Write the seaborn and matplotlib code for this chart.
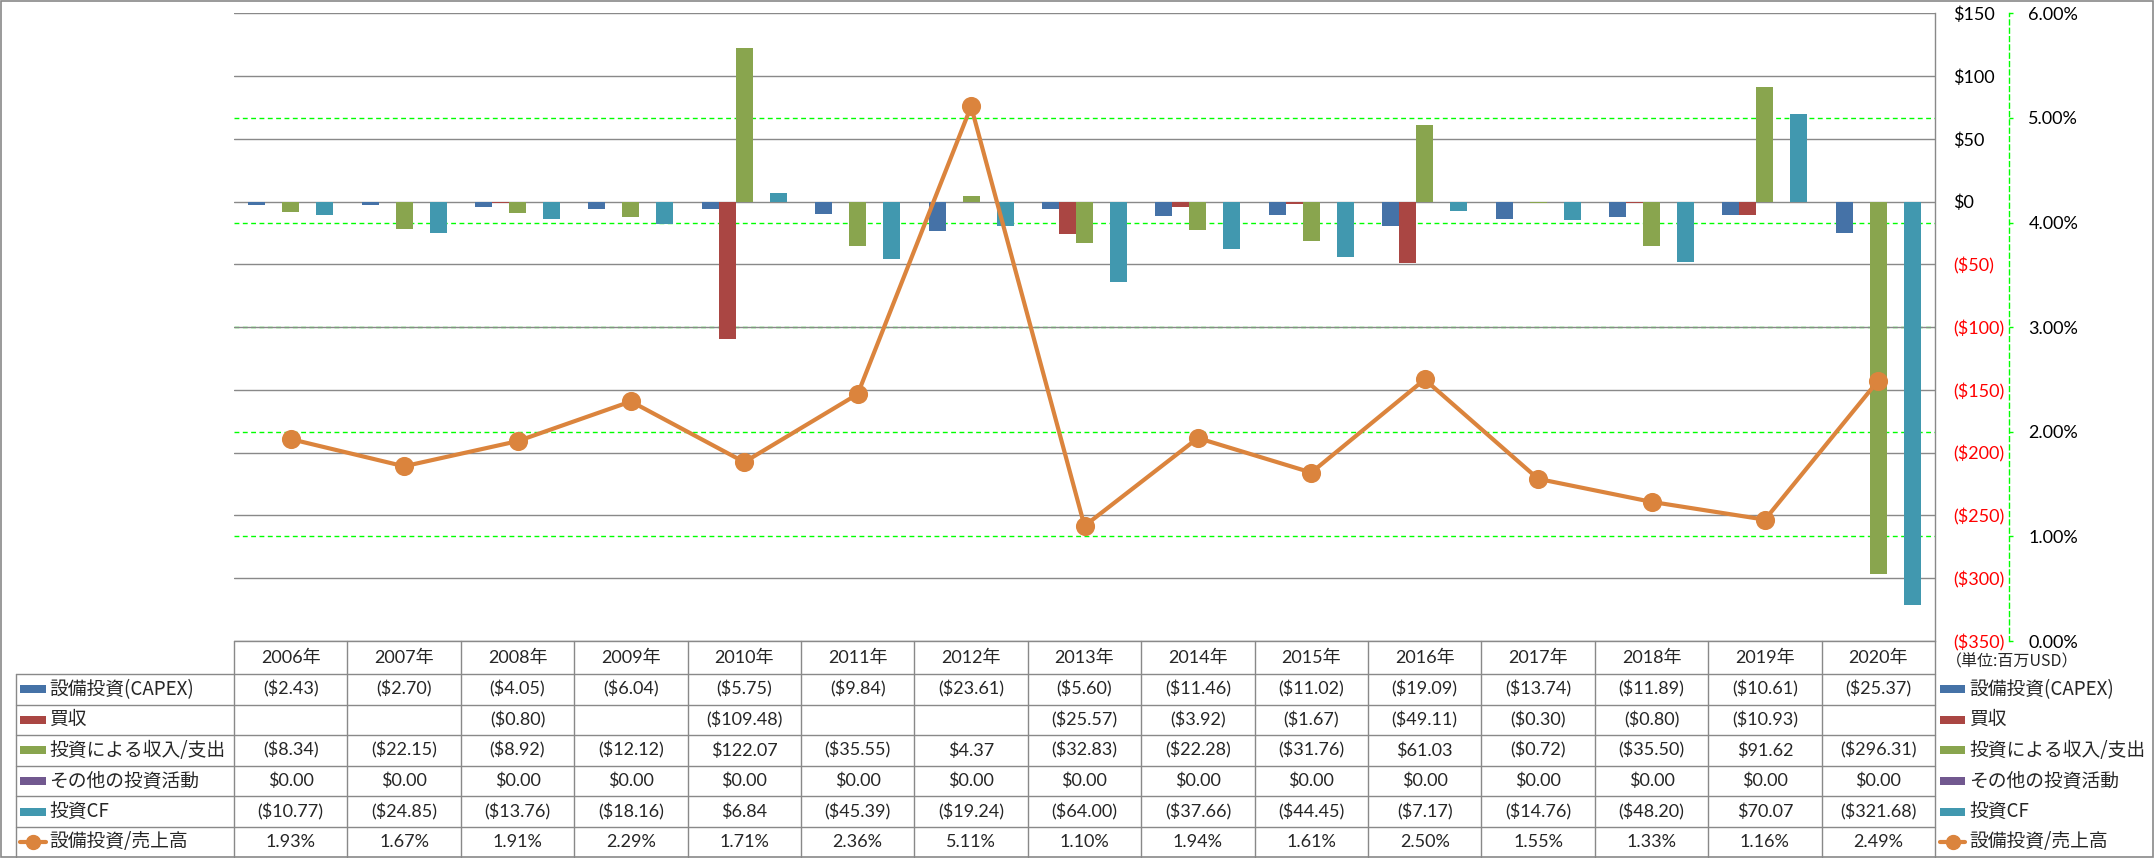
import numpy as np
import pandas as pd
import matplotlib.pyplot as plt
import seaborn as sns
from matplotlib.patches import Rectangle
from matplotlib.lines import Line2D

# data (単位: 百万USD)
years = ['2006年', '2007年', '2008年', '2009年', '2010年', '2011年', '2012年', '2013年',
         '2014年', '2015年', '2016年', '2017年', '2018年', '2019年', '2020年']
capex = [-2.43, -2.70, -4.05, -6.04, -5.75, -9.84, -23.61, -5.60, -11.46, -11.02,
         -19.09, -13.74, -11.89, -10.61, -25.37]
acquisition = [np.nan, np.nan, -0.80, np.nan, -109.48, np.nan, np.nan, -25.57, -3.92,
               -1.67, -49.11, -0.30, -0.80, -10.93, np.nan]
invest_income = [-8.34, -22.15, -8.92, -12.12, 122.07, -35.55, 4.37, -32.83, -22.28,
                 -31.76, 61.03, -0.72, -35.50, 91.62, -296.31]
other_invest = [0.00, 0.00, 0.00, 0.00, 0.00, 0.00, 0.00, 0.00, 0.00, 0.00,
                0.00, 0.00, 0.00, 0.00, 0.00]
invest_cf = [-10.77, -24.85, -13.76, -18.16, 6.84, -45.39, -19.24, -64.00, -37.66,
             -44.45, -7.17, -14.76, -48.20, 70.07, -321.68]
capex_ratio = [1.93, 1.67, 1.91, 2.29, 1.71, 2.36, 5.11, 1.10, 1.94, 1.61,
               2.50, 1.55, 1.33, 1.16, 2.49]

bar_names = ['設備投資(CAPEX)', '買収', '投資による収入/支出', 'その他の投資活動', '投資CF']
line_name = '設備投資/売上高'
bar_colors = ['#4572A7', '#AA4643', '#89A54E', '#71588F', '#4198AF']
line_color = '#DB843D'
bar_series = [capex, acquisition, invest_income, other_invest, invest_cf]

df = pd.DataFrame({
    '年': years * len(bar_names),
    '系列': [n for n in bar_names for _ in years],
    '値': [v for s in bar_series for v in s],
})

sns.set_theme(style='white')
plt.rcParams['font.family'] = ['Lato', 'Noto Sans CJK JP']

W, H = 2156, 858
fig = plt.figure(figsize=(W / 100, H / 100), dpi=100)
L, R, T, B = 234, 1935, 13.3, 641
ax = fig.add_axes([L / W, 1 - B / H, (R - L) / W, (B - T) / H])
ax.patch.set_visible(False)

vmin, vmax, pmax = -350, 150, 6
grid_gray = '#898989'

sns.barplot(data=df, x='年', y='値', hue='系列', hue_order=bar_names, palette=bar_colors,
            width=0.75, saturation=1, linewidth=0, errorbar=None, legend=False, ax=ax)

ax.set_ylim(vmin, vmax)
ticks = list(range(vmin, vmax + 1, 50))
ax.set_yticks(ticks)
ax.set_yticklabels([f'${t}' if t >= 0 else f'(${-t})' for t in ticks])
ax.tick_params(axis='x', bottom=False, labelbottom=False)
ax.set_xlabel('')
ax.set_ylabel('')
ax.set_axisbelow(True)
ax.yaxis.grid(True, color=grid_gray, lw=1.0)
# secondary-axis gridlines drawn behind the bars
for p in range(1, pmax):
    ax.axhline(vmin + p * (vmax - vmin) / pmax, color='#00FF00', lw=1.0,
               ls=(0, (3.5, 2.5)), zorder=0.5)
for s in ['top', 'left', 'bottom']:
    ax.spines[s].set_visible(False)
ax.spines['right'].set_color(grid_gray)
ax.spines['right'].set_linewidth(1.0)

ax2 = ax.twinx()
ax2.patch.set_visible(False)
sns.pointplot(x=years, y=capex_ratio, color=line_color, markers='o', markersize=11.5,
              linewidth=3, errorbar=None, ax=ax2)
ax2.set_ylim(0, pmax)
ax2.set_yticks(range(0, pmax + 1))
ax2.set_yticklabels([f'{p:.2f}%' for p in range(0, pmax + 1)])
ax2.yaxis.tick_right()
ax2.tick_params(axis='y', direction='out', length=3, width=1, color='#00FF00',
                labelcolor='black', pad=11, labelsize=13)
ax2.tick_params(axis='x', bottom=False, labelbottom=False)
ax2.set_xlabel('')
ax2.set_ylabel('')
for s in ['top', 'left', 'bottom']:
    ax2.spines[s].set_visible(False)
ax2.spines['right'].set_position(('outward', (2009 - R) * 0.72))
ax2.spines['right'].set_color('#00FF00')
ax2.spines['right'].set_linestyle((0, (3.5, 2.5)))
ax2.spines['right'].set_linewidth(1.0)
ax.set_xlim(-0.5, len(years) - 0.5)
ax2.set_xlim(-0.5, len(years) - 0.5)

# twinx moves the primary ticks to the left, so put them back on the right
ax.yaxis.tick_right()
ax.tick_params(axis='y', length=0, pad=13, labelsize=13)
for lab, t in zip(ax.get_yticklabels(), ticks):
    lab.set_color('black' if t >= 0 else '#FF0000')

# data table and legend in pixel coordinates
tax = fig.add_axes([0, 0, 1, 1], zorder=-1)
tax.set_xlim(0, W)
tax.set_ylim(H, 0)
tax.axis('off')

row_edges = [641, 674, 704.5, 735, 765.7, 796.3, 826.7, 856.7]
col_w = (R - L) / len(years)
col_edges = [L + k * col_w for k in range(len(years) + 1)]
lab_x = 16
line_kw = dict(color=grid_gray, lw=1.0)
tax.plot([L, R], [row_edges[0]] * 2, **line_kw)
for y in row_edges[1:-1]:
    tax.plot([lab_x, R], [y, y], **line_kw)
tax.plot([lab_x, lab_x], [row_edges[1], row_edges[-1]], **line_kw)
for x in col_edges:
    tax.plot([x, x], [row_edges[0], row_edges[-1]], **line_kw)

# outer frame
tax.add_patch(Rectangle((0.5, 1), 2152, 855.7, fill=False, edgecolor=grid_gray, lw=1.2))

fs = 13
jp = ['Noto Sans CJK JP', 'DejaVu Sans']
for j, yr in enumerate(years):
    tax.text(L + (j + 0.5) * col_w, (row_edges[0] + row_edges[1]) / 2, yr,
             ha='center', va='center', fontsize=fs)


def money(v):
    if np.isnan(v):
        return ''
    return f'(${-v:,.2f})' if v < 0 else f'${v:,.2f}'


row_names = bar_names + [line_name]
row_texts = [[money(v) for v in s] for s in bar_series] + [[f'{v:.2f}%' for v in capex_ratio]]


def legend_key(x0, x1, yc, i):
    if i < len(bar_names):
        tax.add_patch(Rectangle((x0, yc - 4), x1 - x0, 8, color=bar_colors[i], lw=0))
    else:
        tax.add_line(Line2D([x0, x1], [yc, yc], color=line_color, lw=3))
        tax.add_line(Line2D([(x0 + x1) / 2], [yc], color=line_color, marker='o',
                            markersize=10, lw=0))


for i, name in enumerate(row_names):
    yc = (row_edges[i + 1] + row_edges[i + 2]) / 2
    legend_key(19.6, 45.7, yc, i)
    tax.text(49, yc, name, ha='left', va='center', fontsize=13.5, family=jp)
    legend_key(1940, 1965, yc, i)
    tax.text(1969, yc, name, ha='left', va='center', fontsize=13.5, family=jp)
    for j, txt in enumerate(row_texts[i]):
        tax.text(L + (j + 0.5) * col_w, yc, txt, ha='center', va='center', fontsize=fs)

tax.text(1946, 662, '（単位:百万USD）', ha='left', va='center', fontsize=11.5, family=jp)

fig.savefig('out.png', dpi=100)
